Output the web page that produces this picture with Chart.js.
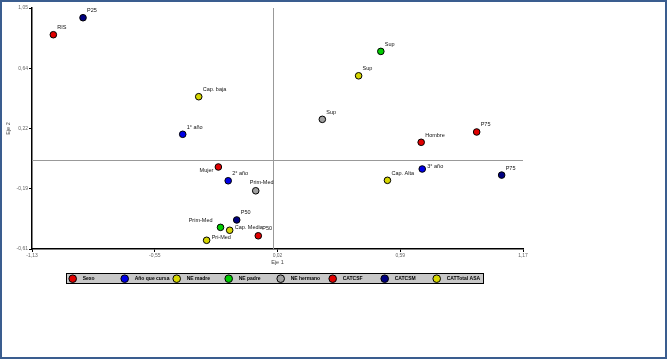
<!DOCTYPE html>
<html>
<head>
<meta charset="utf-8">
<script src="https://cdn.jsdelivr.net/npm/chart.js@4/dist/chart.umd.min.js"></script>
<style>
  html, body { margin: 0; padding: 0; background: #fff; overflow: hidden; }
  canvas { display: block; }
</style>
</head>
<body>
<canvas id="grafico" width="667" height="359"></canvas>
<script>
// series (one per variable)
const series = ["Sexo", "Año que cursa", "NE madre", "NE padre", "NE hermano", "CATCSF", "CATCSM", "CATTotal ASA"];
const colores = ["#e00000", "#0000e6", "#d6d600", "#00cc00", "#a0a0a0", "#e00000", "#000080", "#d6d600"];

// categories of each series
const etiquetas = [
  ["Hombre", "Mujer"],
  ["1° año", "2° año", "3° año"],
  ["Pri-Med", "Sup"],
  ["Prim-Med", "Sup"],
  ["Prim-Med", "Sup"],
  ["RIS", "P50", "P75"],
  ["P25", "P50", "P75"],
  ["Cap. baja", "Cap. Media", "Cap. Alta"]
];
// Eje 1
const eje1 = [
  [0.693, -0.257],
  [-0.424, -0.211, 0.698],
  [-0.312, 0.400],
  [-0.247, 0.504],
  [-0.082, 0.230],
  [-1.030, -0.070, 0.953],
  [-0.891, -0.171, 1.070],
  [-0.349, -0.204, 0.535]
];
// Eje 2
const eje2 = [
  [0.125, -0.045],
  [0.180, -0.140, -0.059],
  [-0.550, 0.583],
  [-0.461, 0.751],
  [-0.209, 0.283],
  [0.866, -0.519, 0.196],
  [0.983, -0.410, -0.101],
  [0.439, -0.481, -0.137]
];

// ticks
const xTicks = [-1.13, -0.555, 0.02, 0.595, 1.17];
const xTickLabels = ["-1,13", "-0,55", "0,02", "0,59", "1,17"];
const yTicks = [-0.61, -0.195, 0.22, 0.635, 1.05];
const yTickLabels = ["-0,61", "-0,19", "0,22", "0,64", "1,05"];

// where each point label goes
const posEtiquetas = [
  ["ne", "sw"],
  ["ne", "ne", "e"],
  ["e", "ne"],
  ["nw", "ne"],
  ["n", "ne"],
  ["ne", "ne", "ne"],
  ["ne", "ne", "ne"],
  ["ne", "e", "ne"]
];

const datasets = series.map((nombre, i) => ({
  label: nombre,
  data: eje1[i].map((x, j) => ({x: x, y: eje2[i][j]})),
  backgroundColor: colores[i],
  borderColor: "#000",
  borderWidth: 1,
  pointRadius: 3.3,
  pointHoverRadius: 3.3
}));

const lineasCero = {
  id: "lineasCero",
  beforeDatasetsDraw(chart) {
    const {ctx, chartArea: a, scales} = chart;
    const x0 = Math.round(scales.x.getPixelForValue(0)) + 0.5;
    const y0 = Math.round(scales.y.getPixelForValue(0)) + 0.5;
    ctx.save();
    ctx.strokeStyle = "#999";
    ctx.lineWidth = 1;
    ctx.beginPath();
    ctx.moveTo(x0, a.top); ctx.lineTo(x0, a.bottom);
    ctx.moveTo(a.left, y0); ctx.lineTo(a.right, y0);
    ctx.stroke();
    ctx.restore();
  }
};

const textosPuntos = {
  id: "textosPuntos",
  afterDatasetsDraw(chart) {
    const ctx = chart.ctx;
    ctx.save();
    ctx.font = "5.5px 'Liberation Sans', Arial, sans-serif";
    ctx.fillStyle = "#111";
    ctx.textBaseline = "middle";
    chart.data.datasets.forEach((ds, i) => {
      chart.getDatasetMeta(i).data.forEach((p, j) => {
        const pos = posEtiquetas[i][j];
        let dx = 4, dy = -7, al = "left";
        if (pos === "e") { dx = 5; dy = -3; }
        if (pos === "sw") { dx = -5; dy = 4; al = "right"; }
        if (pos === "nw") { dx = -8; dy = -7; al = "right"; }
        if (pos === "n") { dx = -6; dy = -8; }
        ctx.textAlign = al;
        ctx.fillText(etiquetas[i][j], p.x + dx, p.y + dy);
      });
    });
    ctx.restore();
  }
};

const leyenda = {
  id: "leyenda",
  afterDraw(chart) {
    const ctx = chart.ctx;
    ctx.save();
    ctx.fillStyle = "#c8c8c8";
    ctx.fillRect(66, 273, 418, 11);
    ctx.strokeStyle = "#000";
    ctx.lineWidth = 1;
    ctx.strokeRect(66.5, 273.5, 417, 10);
    ctx.font = "bold 5px 'Liberation Sans', Arial, sans-serif";
    ctx.textBaseline = "middle";
    ctx.textAlign = "left";
    series.forEach((s, i) => {
      const cx = 72.7 + i * 52;
      ctx.beginPath();
      ctx.arc(cx, 278.7, 3.8, 0, Math.PI * 2);
      ctx.fillStyle = colores[i];
      ctx.fill();
      ctx.strokeStyle = "#000";
      ctx.stroke();
      ctx.fillStyle = "#000";
      ctx.fillText(s, cx + 10, 279);
    });
    // marco
    ctx.strokeStyle = "#3a5d8f";
    ctx.lineWidth = 2;
    ctx.strokeRect(1, 1, 665, 357);
    ctx.restore();
  }
};

const fuenteTicks = {size: 5, family: "'Liberation Sans', Arial, sans-serif"};

new Chart(document.getElementById("grafico"), {
  type: "scatter",
  data: {datasets: datasets},
  options: {
    responsive: false,
    animation: false,
    devicePixelRatio: 1,
    layout: {padding: {left: 0, top: 8, right: 144, bottom: 92}},
    plugins: {legend: {display: false}, tooltip: {enabled: false}},
    scales: {
      x: {
        min: -1.13, max: 1.17,
        afterBuildTicks: s => { s.ticks = xTicks.map(v => ({value: v})); },
        afterFit: s => { s.height = 18; },
        ticks: {callback: (v, i) => xTickLabels[i], font: fuenteTicks, color: "#666", padding: 1, maxRotation: 0, autoSkip: false},
        grid: {drawOnChartArea: false, tickLength: 3, tickColor: "#000"},
        border: {color: "#000", width: 1.5},
        title: {display: true, text: "Eje 1", font: {size: 5.5, family: "'Liberation Sans', Arial, sans-serif"}, color: "#444", padding: {top: 0, bottom: 1}}
      },
      y: {
        min: -0.61, max: 1.05,
        afterBuildTicks: s => { s.ticks = yTicks.map(v => ({value: v})); },
        afterFit: s => { s.width = 32; },
        ticks: {callback: (v, i) => yTickLabels[i], font: fuenteTicks, color: "#666", padding: 1, autoSkip: false},
        grid: {drawOnChartArea: false, tickLength: 3, tickColor: "#000"},
        border: {color: "#000", width: 1.5},
        title: {display: true, text: "Eje 2", font: {size: 5.5, family: "'Liberation Sans', Arial, sans-serif"}, color: "#444", padding: {top: 5, bottom: 0}}
      }
    }
  },
  plugins: [lineasCero, textosPuntos, leyenda]
});
</script>
</body>
</html>
